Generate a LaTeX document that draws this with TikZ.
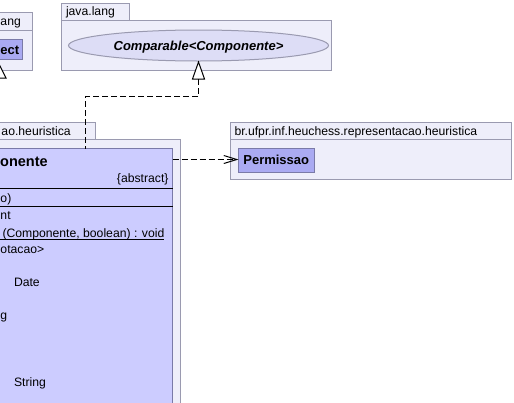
\documentclass[tikz,border=0pt]{standalone}
\usepackage{fontspec}
\setmainfont{Liberation Sans}
\usetikzlibrary{arrows.meta,shapes.geometric}
\definecolor{pkgfill}{HTML}{EEEEFA}
\definecolor{pkgline}{HTML}{9A9AB0}
\definecolor{clsfill}{HTML}{CCCCFF}
\definecolor{clsline}{HTML}{7A7AA8}
\definecolor{boxfill}{HTML}{AAAAF2}
\definecolor{ellfill}{HTML}{DDDDF6}
\begin{document}
\begin{tikzpicture}[x=1pt,y=-1pt,
  pkgbox/.style={draw=pkgline,fill=pkgfill,line width=1pt,inner sep=0pt,outer sep=0pt,anchor=north west},
  clsbox/.style={draw=clsline,fill=clsfill,line width=1pt,inner sep=0pt,outer sep=0pt,anchor=north west},
  smallbox/.style={draw=clsline,fill=boxfill,line width=1pt,inner sep=0pt,outer sep=0pt,anchor=north west},
  lbl/.style={inner sep=0pt,outer sep=0pt,font=\fontsize{12.2}{14}\selectfont},
  bold/.style={inner sep=0pt,outer sep=0pt,font=\fontsize{13}{15}\selectfont\bfseries},
  depline/.style={draw=black,line width=1pt,dash pattern=on 6pt off 3pt},
  sep/.style={draw=black,line width=1pt}]
\useasboundingbox (0,0) rectangle (514,402);
\clip (0,0) rectangle (514,402);
% java.lang package (left, cut off)
\node[pkgbox,minimum width=72.5pt,minimum height=17.5pt] (objtab) at (-40,12.5) {};
\node[pkgbox,minimum width=72.5pt,minimum height=40.5pt] (objpkg) at (-40,30) {};
\node[lbl,anchor=base west] (objtabl) at (0.5,25.5) {ang};
\node[smallbox,minimum width=62.5pt,minimum height=20.5pt] (objbox) at (-40,39) {};
\node[bold,anchor=base west] (objl) at (0.5,54.2) {ect};
\coordinate (objtip) at (0,66);
\draw[fill=white,draw=black,line width=1pt] (objtip) -- ++(6,12) -- ++(-12,0) -- cycle;
% java.lang package (Comparable)
\node[pkgbox,minimum width=68pt,minimum height=17pt] (jltab) at (61.5,3.5) {};
\node[pkgbox,minimum width=270pt,minimum height=50pt] (jlpkg) at (61.5,20.5) {};
\node[lbl,anchor=base west] (jltabl) at (66,15.8) {java.lang};
\node[draw=pkgline,fill=ellfill,line width=1pt,ellipse,minimum width=260pt,minimum height=31pt,inner sep=0pt] (comparable) at (198.5,45.5) {};
\node[bold,anchor=base,font=\fontsize{13}{15}\selectfont\bfseries\itshape] (compl) at (198.5,50.2) {Comparable<Componente>};
\coordinate (realtip) at (198.5,62);
\draw[fill=white,draw=black,line width=1pt] (realtip) -- ++(6,17) -- ++(-12,0) -- cycle;
\coordinate (tribase) at (198.5,79);
% heuristica package with Componente
\node[pkgbox,minimum width=135.5pt,minimum height=17pt] (hetab) at (-40,122.5) {};
\node[pkgbox,minimum width=220.5pt,minimum height=300pt] (hepkg) at (-40,139.5) {};
\node[lbl,anchor=base west] (hetabl) at (1.5,135.3) {ao.heuristica};
\node[clsbox,minimum width=212.5pt,minimum height=300pt] (comp) at (-40,148.5) {};
\draw[sep] (comp.west |- 0,188) -- (comp.east |- 0,188);
\draw[sep] (comp.west |- 0,206) -- (comp.east |- 0,206);
\node[inner sep=0pt,anchor=base west,font=\fontsize{14.5}{16}\selectfont\bfseries] (compname) at (0,166.2) {onente};
\node[lbl,anchor=base east] (abs) at (168.5,182.2) {\{abstract\}};
\node[lbl,anchor=base west] (r1) at (0.5,202.5) {o)};
\node[lbl,anchor=base west] (r2) at (0.5,219.3) {nt};
\node[lbl,anchor=base west] (r3) at (2.5,237.2) {(Componente, boolean) : void};
\draw[line width=1pt] (0,239.5) -- (r3.east |- 0,239.5);
\node[lbl,anchor=base west] (r4) at (0.5,253.3) {otacao>};
\node[lbl,anchor=base west] (r5) at (14,286.3) {Date};
\node[lbl,anchor=base west] (r6) at (0.5,319.8) {g};
\node[lbl,anchor=base west] (r7) at (14,386.8) {String};
% representacao.heuristica package with Permissao
\node[pkgbox,minimum width=281pt,minimum height=17pt] (ptab) at (230.5,122.5) {};
\node[pkgbox,minimum width=281pt,minimum height=40pt] (ppkg) at (230.5,139.5) {};
\node[lbl,anchor=base west] (ptabl) at (234.5,135.3) {br.ufpr.inf.heuchess.representacao.heuristica};
\node[smallbox,minimum width=75.5pt,minimum height=23.5pt] (perm) at (238.5,148.5) {};
\node[bold,anchor=base] (perml) at (perm.center |- 0,164.7) {Permissao};
% connectors
\draw[depline] (tribase) -- ++(0,17.5) -| (85.5,0 |- comp.north);
\draw[depline,-{Straight Barb[length=13pt,width=8pt,line width=1pt]}] (comp.east |- 0,159.5) -- (perm.west |- 0,159.5);
\end{tikzpicture}
\end{document}
